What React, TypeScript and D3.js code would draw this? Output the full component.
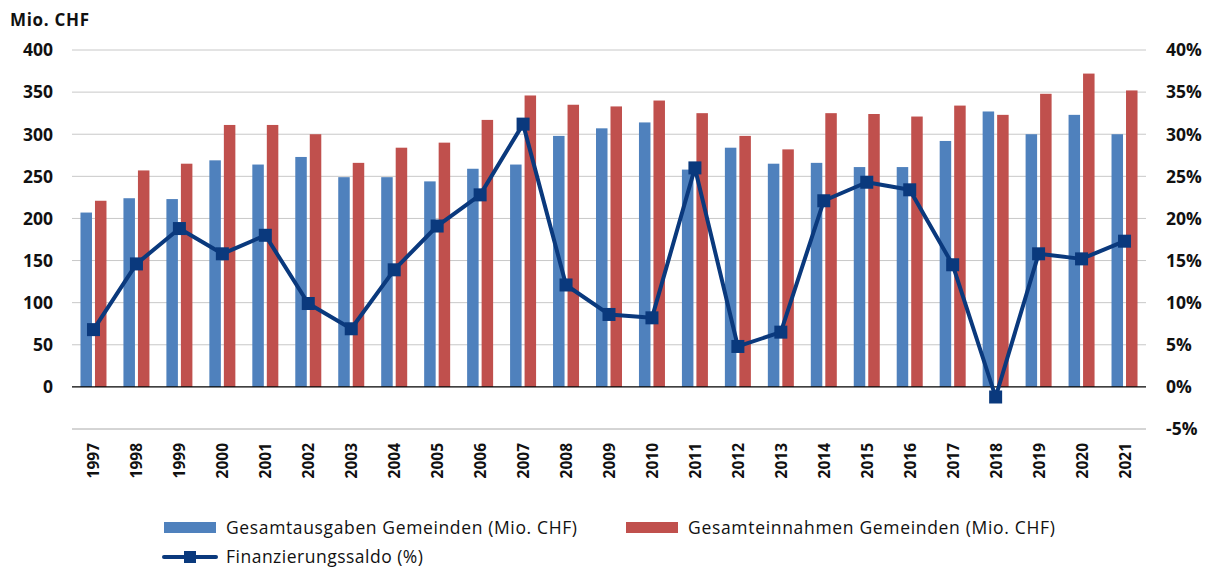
import React from 'react';
import * as d3 from 'd3';

// values
const years = ['1997', '1998', '1999', '2000', '2001', '2002', '2003', '2004', '2005', '2006', '2007', '2008', '2009',
  '2010', '2011', '2012', '2013', '2014', '2015', '2016', '2017', '2018', '2019', '2020', '2021'];
const ausgaben = [207, 224, 223, 269, 264, 273, 249, 249, 244, 259, 264, 298, 307, 314, 258, 284, 265, 266, 261, 261, 292, 327, 300, 323, 300];
const einnahmen = [221, 257, 265, 311, 311, 300, 266, 284, 290, 317, 346, 335, 333, 340, 325, 298, 282, 325, 324, 321, 334, 323, 348, 372, 352];
const saldo = [6.8, 14.6, 18.8, 15.8, 18.0, 9.9, 6.9, 13.9, 19.1, 22.8, 31.2, 12.1, 8.6, 8.2, 26.0, 4.8, 6.5, 22.1, 24.3, 23.4, 14.5, -1.2, 15.8, 15.2, 17.3];
const leftTicks = [0, 50, 100, 150, 200, 250, 300, 350, 400];
const rightTicks = [-5, 0, 5, 10, 15, 20, 25, 30, 35, 40];

const W = 1211, H = 567;
const m = { left: 72, right: 65, top: 50, bottom: 138 };
const BLUE = '#4F81BD', RED = '#C0504D', NAVY = '#0A397D';
const FONT = '"Open Sans", Lato, sans-serif';

export default function App() {
  const x = d3.scaleBand().domain(years).range([m.left, W - m.right]);
  const yL = d3.scaleLinear().domain([-50, 400]).range([H - m.bottom, m.top]);
  const yR = d3.scaleLinear().domain([-5, 40]).range([H - m.bottom, m.top]);
  const bw = 11.5;
  const gap = 3;
  const cx = (y: string) => (x(y) as number) + x.bandwidth() / 2;
  const line = d3.line<number>().x((_, i) => cx(years[i])).y(d => yR(d));

  return (
    <svg width={W} height={H} style={{ position: 'absolute', left: 0, top: 0, background: '#fff' }} fontFamily={FONT}>
      <text x={10} y={26} fontSize={17} fontWeight="bold" fill="#111" textLength={79} lengthAdjust="spacing">Mio. CHF</text>

      {/* gridlines */}
      {[-50, ...leftTicks].filter(t => t !== 0).map(t => (
        <line key={t} x1={m.left} x2={W - m.right} y1={yL(t)} y2={yL(t)} stroke={t === -50 ? '#aaa' : '#c8c8c8'} strokeWidth={1} />
      ))}

      {/* left axis */}
      {leftTicks.map(t => (
        <text key={t} x={53} y={yL(t)} dy="0.36em" textAnchor="end" fontSize={17.5} fontWeight="bold" fill="#111">{t}</text>
      ))}
      {/* right axis */}
      {rightTicks.map(t => (
        <text key={t} x={1166} y={yR(t)} dy="0.36em" textAnchor="start" fontSize={17.5} fontWeight="bold" fill="#111">{t}%</text>
      ))}

      {/* bars */}
      {years.map((y, i) => (
        <g key={y}>
          <rect x={cx(y) - gap / 2 - bw} y={yL(ausgaben[i])} width={bw} height={yL(0) - yL(ausgaben[i])} fill={BLUE} />
          <rect x={cx(y) + gap / 2} y={yL(einnahmen[i])} width={bw} height={yL(0) - yL(einnahmen[i])} fill={RED} />
        </g>
      ))}

      <line x1={m.left} x2={W - m.right} y1={yL(0)} y2={yL(0)} stroke="#000" strokeWidth={1.2} />

      {/* saldo line */}
      <path d={line(saldo) || ''} fill="none" stroke={NAVY} strokeWidth={4} strokeLinejoin="round" />
      {saldo.map((v, i) => (
        <rect key={i} x={cx(years[i]) - 6.5} y={yR(v) - 6.5} width={13} height={13} fill={NAVY} />
      ))}

      {/* year labels */}
      {years.map(y => (
        <text key={y} transform={`translate(${cx(y) + 6},${443}) rotate(-90)`} textAnchor="end" fontSize={15.5} fontWeight="bold" fill="#111">{y}</text>
      ))}

      {/* legend */}
      <rect x={164} y={522} width={52} height={11} fill={BLUE} />
      <text x={226} y={534} fontSize={17.5} fill="#111" textLength={351} lengthAdjust="spacing">Gesamtausgaben Gemeinden (Mio. CHF)</text>
      <rect x={626} y={522} width={52} height={11} fill={RED} />
      <text x={688} y={534} fontSize={17.5} fill="#111" textLength={367} lengthAdjust="spacing">Gesamteinnahmen Gemeinden (Mio. CHF)</text>
      <line x1={164} x2={216} y1={557} y2={557} stroke={NAVY} strokeWidth={4} strokeLinecap="round" />
      <rect x={184} y={551} width={12} height={12} fill={NAVY} />
      <text x={226} y={563} fontSize={17.5} fill="#111" textLength={197} lengthAdjust="spacing">Finanzierungssaldo (%)</text>
    </svg>
  );
}
